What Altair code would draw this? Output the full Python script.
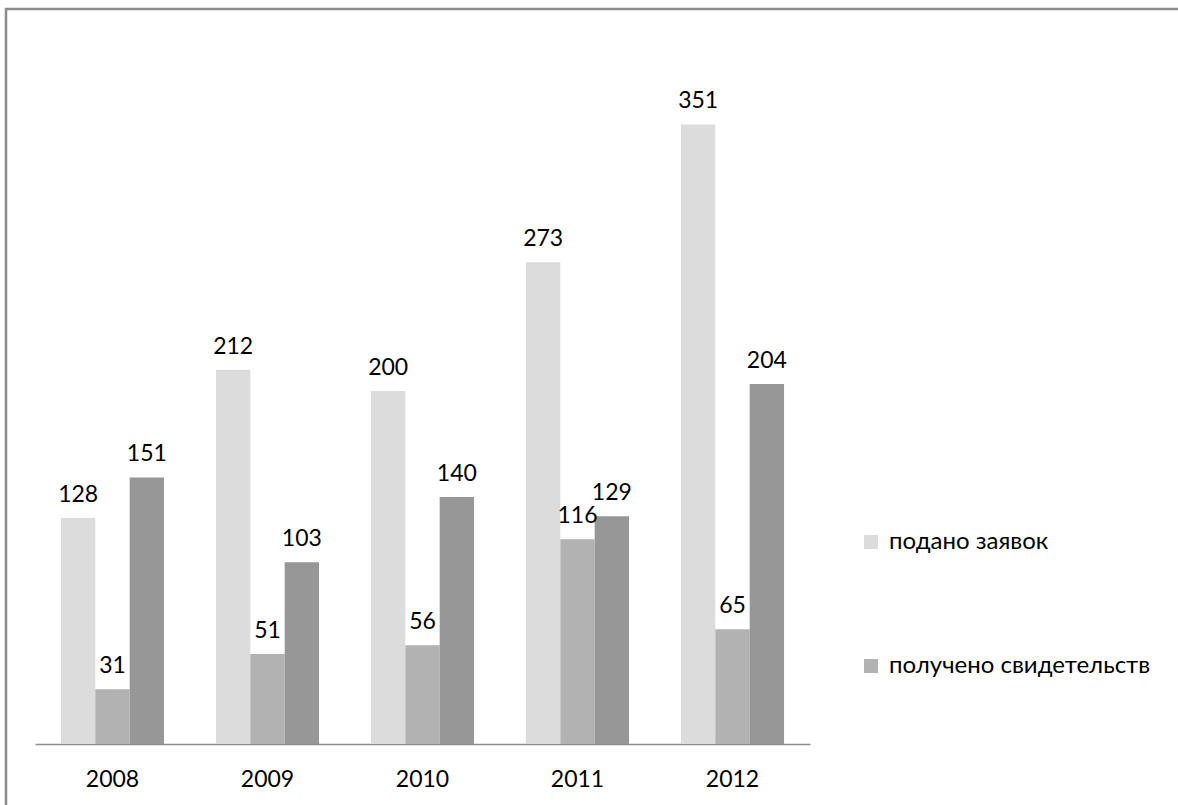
import altair as alt
import pandas as pd

years = ["2008", "2009", "2010", "2011", "2012"]
series = ["подано заявок", "получено свидетельств", "Ряд3"]
filed = [128, 212, 200, 273, 351]
granted = [31, 51, 56, 116, 65]
third = [151, 103, 140, 129, 204]
colors = ["#dcdcdc", "#b2b2b2", "#979797"]

rows = []
for i, y in enumerate(years):
    for s, vals in zip(series, [filed, granted, third]):
        rows.append({"year": y, "series": s, "value": vals[i]})
df = pd.DataFrame(rows)

FONT = "Lato"
FS = 23

x = alt.X("year:N", sort=years, title=None,
          scale=alt.Scale(paddingInner=0.335, paddingOuter=0.1675),
          axis=alt.Axis(labelAngle=0, labelFontSize=FS, labelFont=FONT, labelColor="#000",
                        ticks=False, domainColor="#8c8c8c", domainWidth=1.5, labelPadding=24))
xoff = alt.XOffset("series:N", sort=series, scale=alt.Scale(paddingInner=0, paddingOuter=0))
y = alt.Y("value:Q", scale=alt.Scale(domain=[0, 400], nice=False), axis=None)

bars = alt.Chart(df).mark_bar().encode(
    x=x, xOffset=xoff, y=y,
    color=alt.Color("series:N", sort=series,
                    scale=alt.Scale(domain=series, range=colors),
                    legend=alt.Legend(title=None, values=series[:2], orient="none",
                                      legendX=824, legendY=492, symbolType="square",
                                      symbolSize=196, symbolStrokeWidth=0,
                                      labelFontSize=24, labelFont=FONT, labelColor="#000",
                                      labelLimit=400, rowPadding=100, labelOffset=6)),
)

labels = alt.Chart(df).mark_text(fontSize=FS, font=FONT, color="#000", dy=-16,
                                  baseline="alphabetic").encode(
    x=x, xOffset=xoff, y=y, text="value:Q")

frame = alt.Chart(pd.DataFrame({"a": [0]})).mark_rect(
    fill=None, stroke="#8c8c8c", strokeWidth=2.5).encode(
    x=alt.value(-29), x2=alt.value(1200), y=alt.value(-29), y2=alt.value(900))

chart = alt.layer(frame, bars, labels).properties(
    width=775, height=706,
    background="white",
    autosize=alt.AutoSizeParams(type="none"),
    padding={"left": 35, "top": 38, "right": 368, "bottom": 61},
).configure_view(stroke=None, strokeWidth=0)

chart.save("out.html", embed_options={"renderer": "svg", "actions": False})
